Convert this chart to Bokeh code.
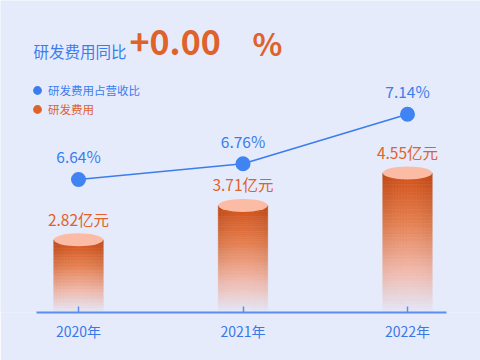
import numpy as np
from bokeh.plotting import figure
from bokeh.models import Range1d, FixedTicker, Label, Legend, LegendItem, ColumnDataSource
from bokeh.core.properties import value
from bokeh.embed import file_html
from bokeh.resources import INLINE

# ---------------- data ----------------
years = ["2020年", "2021年", "2022年"]
rd_ratio = [6.64, 6.76, 7.14]          # 研发费用占营收比 (%)
rd_cost = [2.82, 3.71, 4.55]           # 研发费用 (亿元)
ratio_labels = ["6.64%", "6.76%", "7.14%"]
cost_labels = ["2.82亿元", "3.71亿元", "4.55亿元"]
title_text = "研发费用同比"
change_value = "+0.00"
change_unit = "%"
legend_names = ["研发费用占营收比", "研发费用"]

# ---------------- style ----------------
BG = "#e5ebfb"
BLUE = "#3b7ded"
ORANGE = "#e0622b"
FONT = "Noto Sans CJK SC"
W, H = 480, 360

p = figure(width=W, height=H, output_backend="svg", toolbar_location=None,
           x_range=Range1d(-0.4742, 2.4438), y_range=Range1d(0.94, 9.012),
           y_axis_location=None,
           min_border_left=0, min_border_right=0, min_border_top=0, min_border_bottom=48)
p.extra_y_ranges = {"ratio": Range1d(5.621, 8.011)}
p.background_fill_color = BG
p.border_fill_color = BG
p.outline_line_color = None
p.grid.visible = False

xs = list(range(len(years)))

# ---------------- cylinders (gradient built from slices of each bar) ----------------
bar_w = 0.30
nrow, ncol = 50, 16
stops_t = [0.0, 0.35, 0.7, 1.0]
stops_c = [(210, 80, 24), (230, 128, 80), (242, 186, 172), (229, 233, 249)]


def grad(t):
    return [np.interp(t, stops_t, [c[k] for c in stops_c]) for k in range(3)]


left, right, top, bottom, colors = [], [], [], [], []
base = p.y_range.start
for xi, v in zip(xs, rd_cost):
    ys = np.linspace(v, base, nrow + 1)
    xe = np.linspace(xi - bar_w / 2, xi + bar_w / 2, ncol + 1)
    for r in range(nrow):
        t = (r + 0.5) / nrow
        rgb = grad(t)
        for c in range(ncol):
            u = ((c + 0.5) / ncol) * 2 - 1
            shade = 1 - 0.10 * u * u * (1 - t)
            cc = [int(max(0, min(255, ch * shade))) for ch in rgb]
            left.append(xe[c]); right.append(xe[c + 1])
            top.append(ys[r]); bottom.append(ys[r + 1])
            colors.append("#%02x%02x%02x" % tuple(cc))

src = ColumnDataSource(dict(left=left, right=right, top=top, bottom=bottom, color=colors))
p.quad(left="left", right="right", top="top", bottom="bottom", source=src,
       fill_color="color", line_color="color", line_width=0.6)
p.ellipse(x=xs, y=rd_cost, width=bar_w, height=13, height_units="screen",
          fill_color="#fbbba4", line_color=None)

# ---------------- line ----------------
p.line(xs, rd_ratio, y_range_name="ratio", line_color=BLUE, line_width=1.6)
p.scatter(xs, rd_ratio, y_range_name="ratio", size=15, fill_color="#3f84f2", line_color=None)

p.text(xs, rd_ratio, text=ratio_labels, y_range_name="ratio", y_offset=-23,
       text_align="center", text_baseline="middle", text_font=value(FONT),
       text_font_size="15.5px", text_color=BLUE)
p.text(xs, rd_cost, text=cost_labels, y_offset=-21,
       text_align="center", text_baseline="middle", text_font=value(FONT),
       text_font_size="15.5px", text_color=ORANGE)

# ---------------- x axis ----------------
ax = p.xaxis[0]
ax.ticker = FixedTicker(ticks=xs)
ax.major_label_overrides = {i: y for i, y in zip(xs, years)}
ax.bounds = (-0.2553, 2.237)
ax.axis_line_color = "#5a8ef0"
ax.axis_line_width = 2
ax.major_tick_line_color = "#5a8ef0"
ax.major_tick_line_width = 1.5
ax.major_tick_in = 6
ax.major_tick_out = 0
ax.minor_tick_line_color = None
ax.major_label_standoff = 8
ax.major_label_text_font = FONT
ax.major_label_text_font_size = "14px"
ax.major_label_text_color = "#3a78e6"

# ---------------- title ----------------
p.add_layout(Label(x=33, y=262, x_units="screen", y_units="screen", text=title_text,
                   text_font=FONT, text_font_size="15.5px", text_color=BLUE,
                   text_baseline="middle"))
p.add_layout(Label(x=129, y=270, x_units="screen", y_units="screen", text=change_value,
                   text_font=FONT, text_font_size="34px", text_font_style="bold",
                   text_color=ORANGE, text_baseline="middle"))
p.add_layout(Label(x=252, y=270, x_units="screen", y_units="screen", text=change_unit,
                   text_font=FONT, text_font_size="31px", text_font_style="bold",
                   text_color=ORANGE, text_baseline="middle"))

# ---------------- legend ----------------
r1 = p.scatter(x=[-10], y=[-10], size=13, fill_color=BLUE, line_color=None)
r2 = p.scatter(x=[-10], y=[-10], size=13, fill_color=ORANGE, line_color=None)
for r, name, col, yy in [(r1, legend_names[0], BLUE, 211), (r2, legend_names[1], ORANGE, 192)]:
    leg = Legend(items=[LegendItem(label=name, renderers=[r])], location=(26, yy),
                 background_fill_alpha=0, border_line_alpha=0, padding=0, margin=0,
                 glyph_width=22, glyph_height=22, label_standoff=0,
                 label_text_font=FONT, label_text_font_size="11.5px",
                 label_text_color=col, label_height=14)
    p.add_layout(leg)

open("out.html", "w").write(file_html(p, INLINE))
